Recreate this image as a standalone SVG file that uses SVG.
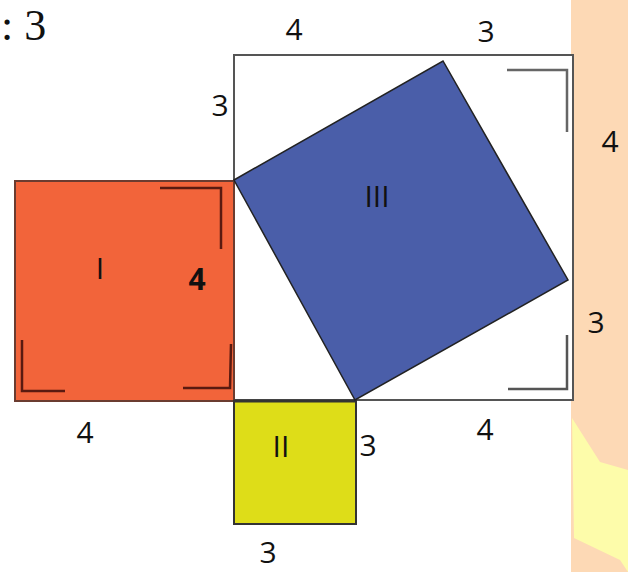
<svg xmlns="http://www.w3.org/2000/svg" width="628" height="572" viewBox="0 0 628 572">
<style>
.lb{font-family:"Open Sans","DejaVu Sans",sans-serif;font-size:30px;fill:#111;text-anchor:middle}
.mk{fill:none;stroke-width:2.5}
</style>
<rect width="628" height="572" fill="#ffffff"/>
<rect x="571" y="0" width="57" height="572" fill="#fdd9b5"/>
<polygon points="572,418 600,462 628,470 628,572 620,560 574,538" fill="#fdfcaa"/>
<text x="1" y="40" font-family="Liberation Serif,serif" font-size="44" fill="#111">: 3</text>
<g id="outer">
<rect x="234" y="55" width="339" height="345" fill="#fff" stroke="#555" stroke-width="2"/>
<polyline class="mk" stroke="#666" points="507,70 567,70 567,132"/>
<polyline class="mk" stroke="#555" points="567,335 567,389 508,389"/>
</g>
<g id="sq1">
<rect x="15" y="181" width="219" height="220" fill="#f2643a" stroke="#6b3c30" stroke-width="2"/>
<polyline class="mk" stroke="#5a1a10" points="160,188 221,188 221,249"/>
<polyline class="mk" stroke="#5a1a10" points="22,340 22,391 65,391"/>
<polyline class="mk" stroke="#5a1a10" points="183,388 230,388 231,344"/>
<text class="lb" x="100" y="279">I</text>
<text class="lb" x="197" y="290" font-weight="bold">4</text>
</g>
<g id="sq2">
<rect x="234" y="401" width="122" height="123" fill="#dedd18" stroke="#333" stroke-width="2"/>
<line x1="234" y1="401" x2="356" y2="401" stroke="#333" stroke-width="3"/>
<text class="lb" x="281" y="457">II</text>
</g>
<g id="sq3">
<polygon points="234,180 443,61 568,280 355,400" fill="#4a5ea9" stroke="#222" stroke-width="1.5"/>
<text class="lb" x="377" y="207">III</text>
</g>
<g id="labels">
<text class="lb" x="294" y="40">4</text>
<text class="lb" x="486" y="42">3</text>
<text class="lb" x="220" y="116">3</text>
<text class="lb" x="610" y="152">4</text>
<text class="lb" x="596" y="333">3</text>
<text class="lb" x="85" y="443">4</text>
<text class="lb" x="485" y="440">4</text>
<text class="lb" x="368" y="456">3</text>
<text class="lb" x="268" y="563">3</text>
</g>
</svg>
